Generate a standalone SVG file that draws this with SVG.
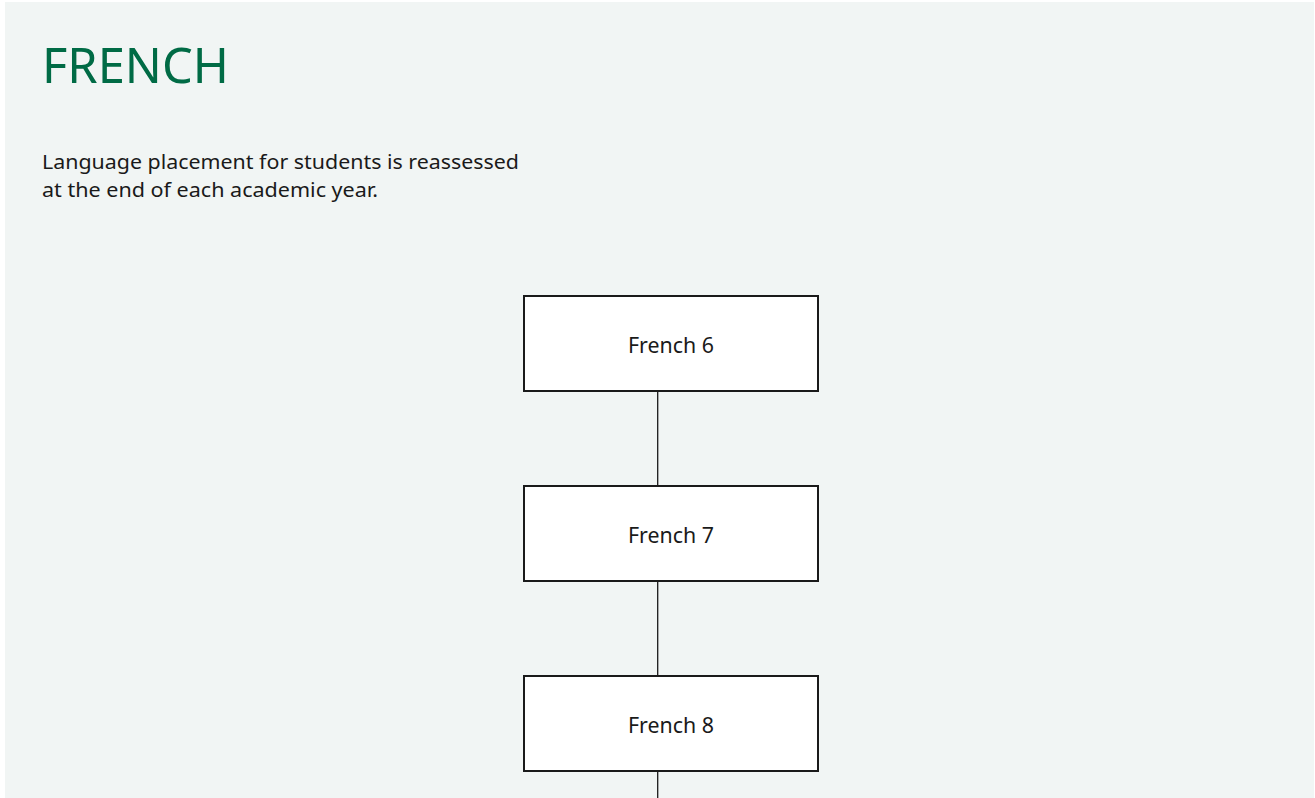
<svg xmlns="http://www.w3.org/2000/svg" width="1315" height="798" viewBox="0 0 1315 798">
  <style>
    .panel { fill: #f1f5f4; }
    .title { font-family: "Noto Sans", "Liberation Sans", sans-serif; font-size: 49px; fill: #006b45; }
    .body { font-family: "Noto Sans", "Liberation Sans", sans-serif; font-size: 20.5px; fill: #1a1a1a; }
    .node rect { fill: #ffffff; stroke: #1a1a1a; stroke-width: 2; }
    .node text { font-family: "Noto Sans", "Liberation Sans", sans-serif; font-size: 21px; fill: #1a1a1a; text-anchor: middle; }
    .links line { stroke: #1a1a1a; stroke-width: 1.3; }
  </style>
  <rect width="1315" height="798" fill="#ffffff"/>
  <rect class="panel" x="5" y="2" width="1309" height="800"/>
  <text class="title" x="42" y="83" textLength="187" lengthAdjust="spacingAndGlyphs">FRENCH</text>
  <text class="body" x="42" y="169" textLength="477" lengthAdjust="spacingAndGlyphs">Language placement for students is reassessed</text>
  <text class="body" x="42" y="197" textLength="336" lengthAdjust="spacingAndGlyphs">at the end of each academic year.</text>
  <g class="links">
    <line x1="657.7" y1="391" x2="657.7" y2="486"/>
    <line x1="657.7" y1="581" x2="657.7" y2="676"/>
    <line x1="657.7" y1="771" x2="657.7" y2="798"/>
  </g>
  <g id="french6" class="node">
    <rect x="524" y="296" width="294" height="95"/>
    <text x="671" y="353" textLength="86" lengthAdjust="spacingAndGlyphs">French 6</text>
  </g>
  <g id="french7" class="node">
    <rect x="524" y="486" width="294" height="95"/>
    <text x="671" y="543" textLength="86" lengthAdjust="spacingAndGlyphs">French 7</text>
  </g>
  <g id="french8" class="node">
    <rect x="524" y="676" width="294" height="95"/>
    <text x="671" y="733" textLength="86" lengthAdjust="spacingAndGlyphs">French 8</text>
  </g>
</svg>
